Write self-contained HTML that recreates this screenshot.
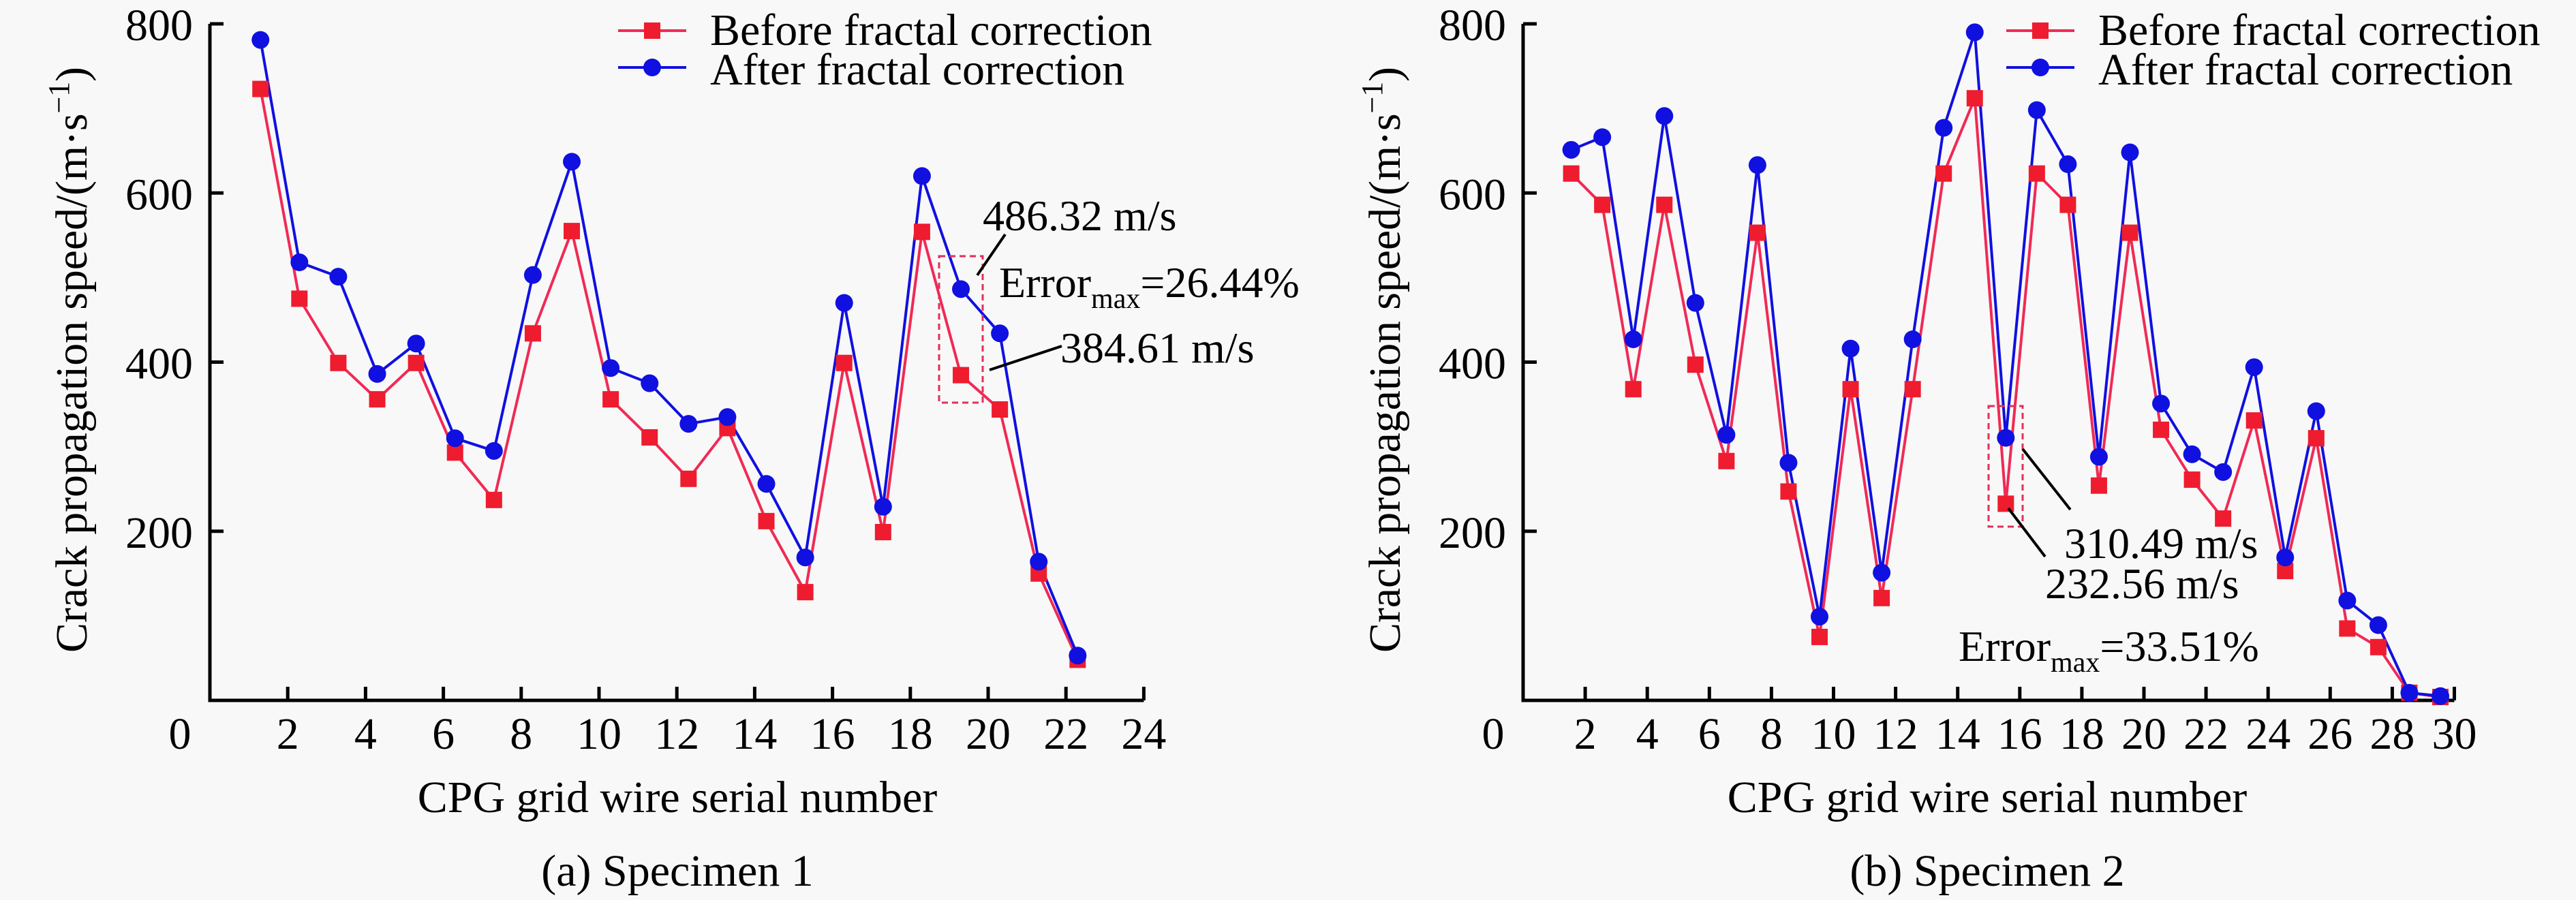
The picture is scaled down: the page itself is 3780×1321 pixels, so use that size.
<!DOCTYPE html>
<html><head><meta charset="utf-8"><style>
html,body{margin:0;padding:0;background:#f8f8f8}
svg{display:block;font-family:"Liberation Serif",serif}
</style></head><body>
<svg id="fig" width="3780" height="1321" viewBox="0 0 3780 1321" xmlns="http://www.w3.org/2000/svg">
<rect width="3780" height="1321" fill="#f8f8f8"/>
</svg>
<script>
const categories1 = [1,2,3,4,5,6,7,8,9,10,11,12,13,14,15,16,17,18,19,20,21,22];
const before1 = [723,475,399,356,399,293,237,434,555,356,311,262,322,212,128,399,199,554,384.61,344,150,48];
const after1 = [781,518,501,386,422,310,295,503,637,393,375,327,335,256,169,470,229,620,486.32,434,164,53];
const xTicks1 = [0,2,4,6,8,10,12,14,16,18,20,22,24];
const categories2 = [1,2,3,4,5,6,7,8,9,10,11,12,13,14,15,16,17,18,19,20,21,22,23,24,25,26,27,28,29];
const before2 = [623,586,368,586,397,283,553,247,75,368,121,368,623,712,232.56,623,586,254,553,320,261,215,331,153,310,85,63,9,4];
const after2 = [651,666,427,691,470,314,633,281,99,416,151,427,677,790,310.49,698,634,288,648,351,291,270,394,169,342,118,89,9,5];
const xTicks2 = [0,2,4,6,8,10,12,14,16,18,20,22,24,26,28,30];
const yTicks = [200,400,600,800];

const NS = "http://www.w3.org/2000/svg";
const svg = document.getElementById('fig');
function mk(tag, attrs, parent, text){
  const e = document.createElementNS(NS, tag);
  for (const k in attrs) e.setAttribute(k, attrs[k]);
  if (text !== undefined) e.textContent = text;
  (parent||svg).appendChild(e);
  return e;
}
const RED = "#ee1c2e", REDLINE = "#f02a55", BLUE = "#1010e0";

function panel(o){
  const g = mk('g', {});
  
  
  const x0 = o.ax, yBase = 1028, yTop = 35;
  const sx = v => x0 + v * o.unit;
  const sy = v => yBase - v * (yBase - yTop) / 800;
  // axes
  const ax = mk('path', {d:`M${x0},${yTop} V${yBase} H${sx(o.xmax)}`, stroke:'#000', 'stroke-width':5, fill:'none'}, g);
  
  
  yTicks.forEach(t => {
    const tk = mk('line', {x1:x0, x2:x0+20, y1:sy(t), y2:sy(t), stroke:'#000', 'stroke-width':5}, g);
    
    
    const lb = mk('text', {x:x0-25, y:sy(t)+24, 'font-size':66, 'text-anchor':'end'}, g, String(t));
    
    
  });
  o.xticks.forEach(t => {
    if (t > 0) {
      const tk = mk('line', {x1:sx(t), x2:sx(t), y1:yBase, y2:yBase-20, stroke:'#000', 'stroke-width':5}, g);
      
      
    }
    const lx = t === 0 ? x0 - 44 : sx(t);
    const lb = mk('text', {x:lx, y:1099, 'font-size':66, 'text-anchor':'middle'}, g, String(t));
    
    
  });
  const yt = mk('text', {transform:`translate(${x0-181},528) rotate(-90)`, 'font-size':66, 'text-anchor':'middle', textLength:860, lengthAdjust:'spacing'}, g);
  
  
  yt.appendChild(document.createTextNode('Crack propagation speed/(m·s'));
  mk('tspan', {dy:-26, 'font-size':44}, yt, '−1');
  mk('tspan', {dy:26}, yt, ')');
  const xt = mk('text', {x:o.titleX, y:1192, 'font-size':66, 'text-anchor':'middle'}, g, 'CPG grid wire serial number');
  
  
  const cap = mk('text', {x:o.titleX, y:1300, 'font-size':66, 'text-anchor':'middle'}, g, o.caption);
  
  
  // series
  const px = o.cats.map(c => sx(c + o.off));
  const redPts = o.before.map((v,i) => `${px[i]},${sy(v)}`).join(' ');
  const bluePts = o.after.map((v,i) => `${px[i]},${sy(v)}`).join(' ');
  const rl = mk('polyline', {points:redPts, fill:'none', stroke:REDLINE, 'stroke-width':4}, g);
  
  
  const bl = mk('polyline', {points:bluePts, fill:'none', stroke:BLUE, 'stroke-width':4}, g);
  
  
  o.before.forEach((v,i) => {
    const m = mk('rect', {x:px[i]-12, y:sy(v)-12, width:24, height:24, fill:RED}, g);
    
    
  });
  o.after.forEach((v,i) => {
    const m = mk('circle', {cx:px[i], cy:sy(v), r:13, fill:BLUE}, g);
    
    
  });
  // legend
  const lg = mk('g', {}, g);
  
  
  const e1 = mk('g', {}, lg);
  
  
  mk('line', {x1:o.legX, x2:o.legX+100, y1:45, y2:45, stroke:REDLINE, 'stroke-width':4}, e1);
  mk('rect', {x:o.legX+38, y:33, width:24, height:24, fill:RED}, e1);
  mk('text', {x:o.legX+135, y:66, 'font-size':66}, e1, 'Before fractal correction');
  const e2 = mk('g', {}, lg);
  
  
  mk('line', {x1:o.legX, x2:o.legX+100, y1:99, y2:99, stroke:BLUE, 'stroke-width':4}, e2);
  mk('circle', {cx:o.legX+50, cy:99, r:13, fill:BLUE}, e2);
  mk('text', {x:o.legX+135, y:124, 'font-size':66}, e2, 'After fractal correction');
  return g;
}

const g1 = panel({name:'chart-specimen-1', ax:308, unit:57.1, xmax:24, xticks:xTicks1, cats:categories1, before:before1, after:after1, off:0.3, titleX:994, caption:'(a) Specimen 1', legX:907});
const g2 = panel({name:'chart-specimen-2', ax:2235, unit:45.55, xmax:30, xticks:xTicks2, cats:categories2, before:before2, after:after2, off:0.55, titleX:2916, caption:'(b) Specimen 2', legX:2944});

// annotations panel 1
function annot(parent, box, lines, texts, errX, errY, errTxt){
  const a = mk('g', {}, parent);
  
  
  mk('rect', {x:box[0], y:box[1], width:box[2], height:box[3], fill:'none', stroke:'#e0305a', 'stroke-width':3, 'stroke-dasharray':'9,6'}, a);
  lines.forEach(l => mk('line', {x1:l[0], y1:l[1], x2:l[2], y2:l[3], stroke:'#000', 'stroke-width':4}, a));
  texts.forEach(t => mk('text', {x:t[0], y:t[1], 'font-size':64}, a, t[2]));
  const et = mk('text', {x:errX, y:errY, 'font-size':64}, a, 'Error');
  mk('tspan', {dy:16, 'font-size':42}, et, 'max');
  mk('tspan', {dy:-16}, et, errTxt);
}
annot(g1, [1378,376,64,215], [[1434,404,1475,344],[1452,543,1558,508]], [[1442,338,'486.32 m/s'],[1556,532,'384.61 m/s']], 1466, 436, '=26.44%');
annot(g2, [2918,596,50,177], [[2968,659,3038,748],[2947,746,3001,817]], [[3029,819,'310.49 m/s'],[3001,878,'232.56 m/s']], 2874, 970, '=33.51%');
</script>
</body></html>
